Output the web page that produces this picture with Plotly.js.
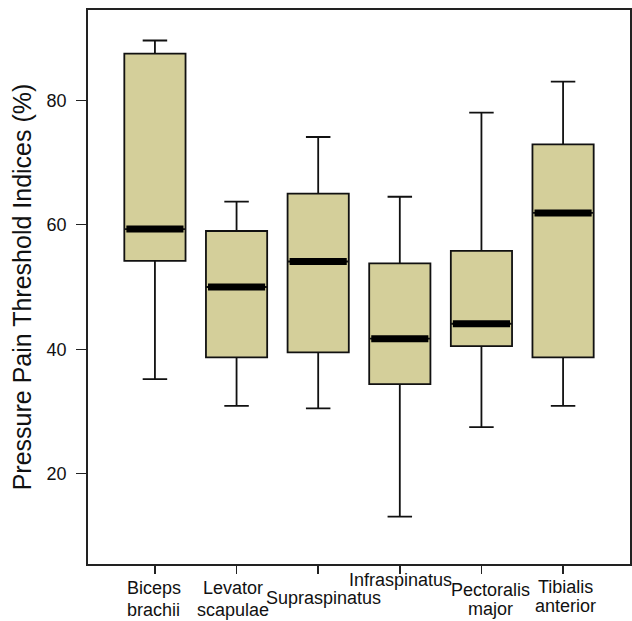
<!DOCTYPE html>
<html>
<head>
<meta charset="utf-8">
<script src="https://cdn.plot.ly/plotly-3.0.1.min.js"></script>
<style>html,body{margin:0;padding:0;background:#fff;}#chart{width:632px;height:621px;}</style>
</head>
<body>
<div id="chart"></div>
<script>
// Data
var muscles = ["Biceps brachii", "Levator scapulae", "Supraspinatus", "Infraspinatus", "Pectoralis major", "Tibialis anterior"];
var labelLines = [["Biceps", "brachii"], ["Levator", "scapulae"], ["Supraspinatus"], ["Infraspinatus"], ["Pectoralis", "major"], ["Tibialis", "anterior"]];
var lowerWhisker = [35.2, 30.9, 30.5, 13.1, 27.5, 30.9];
var q1Values     = [54.2, 38.7, 39.5, 34.4, 40.5, 38.7];
var medianValues = [59.3, 50.0, 54.1, 41.7, 44.1, 61.9];
var q3Values     = [87.5, 59.0, 65.0, 53.8, 55.8, 72.9];
var upperWhisker = [89.6, 63.7, 74.1, 64.5, 78.0, 83.0];
var yTicks = [20, 40, 60, 80];

// label placement (pixel offsets below the axis line, per line) – style only
var labelYShift = [[-24, -46], [-24, -46], [-34], [-16], [-26, -45], [-23, -42]];
var labelXShift = [-1, -4, 5, 1, 9, 2];

var fontReg = "'Liberation Sans', Arial, sans-serif";

var boxTrace = {
  type: "box",
  x: muscles,
  q1: q1Values,
  median: medianValues,
  q3: q3Values,
  lowerfence: lowerWhisker,
  upperfence: upperWhisker,
  boxpoints: false,
  fillcolor: "#d4cf9a",
  line: {color: "#111111", width: 1.8},
  width: 0.75,
  whiskerwidth: 0.4,
  hoverinfo: "skip",
  showlegend: false
};

var medianTrace = {
  type: "box",
  x: muscles,
  q1: medianValues,
  median: medianValues,
  q3: medianValues,
  lowerfence: medianValues,
  upperfence: medianValues,
  boxpoints: false,
  fillcolor: "rgba(0,0,0,0)",
  line: {color: "#000000", width: 7},
  width: 0.70,
  whiskerwidth: 0,
  hoverinfo: "skip",
  showlegend: false
};

var annotations = [];
labelLines.forEach(function(lines, i) {
  lines.forEach(function(line, j) {
    annotations.push({
      x: muscles[i],
      xref: "x",
      y: 0,
      yref: "paper",
      yanchor: "middle",
      yshift: labelYShift[i][j],
      xshift: labelXShift[i],
      text: line,
      showarrow: false,
      font: {family: fontReg, size: 18, color: "#111"},
      align: "center"
    });
  });
});

var layout = {
  width: 632,
  height: 621,
  margin: {l: 88, r: 2, t: 10, b: 57},
  paper_bgcolor: "#ffffff",
  plot_bgcolor: "#ffffff",
  boxmode: "overlay",
  showlegend: false,
  xaxis: {
    type: "category",
    range: [-0.82, 5.82],
    showticklabels: false,
    ticks: "outside",
    ticklen: 8,
    tickwidth: 1.5,
    tickcolor: "#222",
    showline: true,
    mirror: true,
    linecolor: "#222",
    linewidth: 1.8,
    showgrid: false,
    zeroline: false,
    fixedrange: true
  },
  yaxis: {
    range: [5.5, 94.5],
    tickvals: yTicks,
    ticktext: yTicks.map(String),
    ticks: "outside",
    ticklen: 10,
    tickwidth: 1.2,
    tickcolor: "#222",
    ticklabelstandoff: 6,
    tickfont: {family: fontReg, size: 18, color: "#111"},
    showline: true,
    mirror: true,
    linecolor: "#222",
    linewidth: 1.8,
    showgrid: false,
    zeroline: false,
    title: {text: "Pressure Pain Threshold Indices (%)", font: {family: fontReg, size: 25, color: "#111"}, standoff: 8},
    fixedrange: true
  },
  annotations: annotations
};

Plotly.newPlot("chart", [boxTrace, medianTrace], layout, {displayModeBar: false, staticPlot: true});
</script>
</body>
</html>
